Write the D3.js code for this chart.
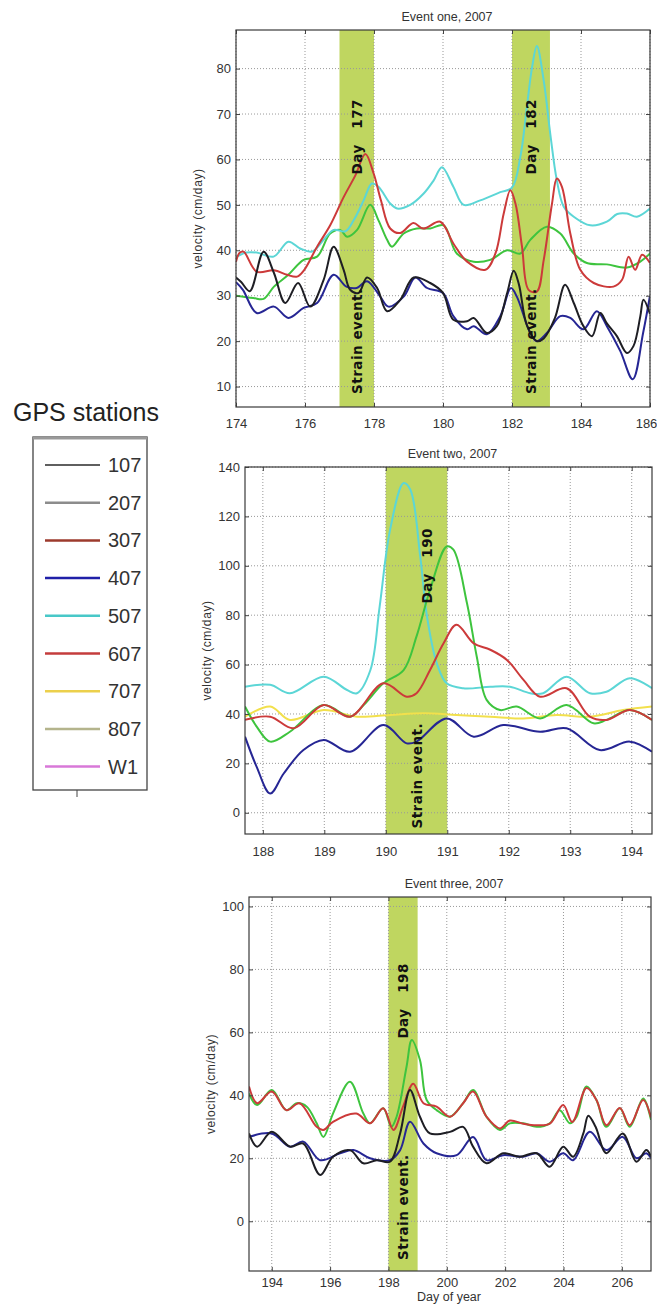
<!DOCTYPE html>
<html>
<head>
<meta charset="utf-8">
<script src="https://cdn.jsdelivr.net/npm/d3@7"></script>
<style>
body { margin: 0; background: #fff; }
svg { display: block; }
.tick text { font-family: "Liberation Sans Narrow", "Arial Narrow", sans-serif; font-size: 13px; fill: #333; }
.title, .ylabel, .xlabel { font-family: "Liberation Sans Narrow", "Arial Narrow", sans-serif; fill: #333; }
.note { font-family: "DejaVu Sans", sans-serif; font-weight: bold; font-size: 13.5px; fill: #111; white-space: pre; letter-spacing: 0.5px; }
.legend text { font-family: "Liberation Sans Narrow", "Arial Narrow", sans-serif; font-size: 20px; fill: #333; }
</style>
</head>
<body>
<svg id="chart" width="657" height="1313"></svg>
<script>
// stations in the legend
const stations = ["107", "207", "307", "407", "507", "607", "707", "807", "W1"];
const legendColors = ["#2a2a2a", "#8c8c8c", "#9c3a2c", "#2020a8", "#48c8c8", "#c43c3c", "#ecd04c", "#b4b48c", "#d878d8"];

// event one, days 174-186 ([day, cm/day])
const ev1_507 = [[174,38.5],[174.3,39.5],[174.6,39.5],[175.09,38.6],[175.52,41.9],[175.86,40.4],[176.2,39.7],[176.54,42.3],[176.83,44.5],[177.17,44.2],[177.41,46.6],[177.7,51],[177.94,54.7],[178.13,54],[178.47,50.3],[178.67,49.2],[179.05,50],[179.44,52.5],[179.73,55.4],[179.97,58.3],[180.3,54],[180.6,50],[181.08,51],[181.66,52.8],[182.0,53.8],[182.24,60.5],[182.43,71.5],[182.58,80.2],[182.72,85],[182.92,77.3],[183.11,65.6],[183.3,55.4],[183.5,49.6],[183.79,47.4],[184.27,45.5],[184.75,46.3],[185.05,48],[185.33,48.1],[185.62,47.4],[186,49.2]];
const ev1_807 = [[174,30],[174.5,29.5],[174.8,29.3],[175.1,32],[175.5,34.5],[175.96,37.9],[176.35,38.6],[176.73,43.7],[177.02,44.5],[177.22,43],[177.51,44.5],[177.89,50],[178.13,46.6],[178.38,42.3],[178.52,40.8],[178.86,43.7],[179.24,44.8],[179.63,44.8],[180.02,45.5],[180.4,39.3],[180.89,37.5],[181.37,37.9],[181.86,40],[182.24,39.3],[182.53,42.3],[183.01,45.2],[183.4,43.7],[183.79,39.3],[184.17,37.2],[184.75,36.9],[185.33,36.2],[185.72,37.5],[186,39.3]];
const ev1_607 = [[174,37.5],[174.1,39.4],[174.22,39.7],[174.6,35.3],[175.1,35.6],[175.48,34.6],[175.77,34.2],[175.97,35.6],[176.35,40.8],[176.73,45.5],[177.12,51.7],[177.46,56.5],[177.75,61.2],[177.99,56.9],[178.2,51],[178.47,44.8],[178.76,43.8],[179.14,46],[179.43,44.8],[179.92,46.3],[180.3,41.5],[180.7,37.5],[181.23,35.7],[181.52,39.3],[181.76,48.1],[181.95,53.2],[182.1,50.3],[182.29,40.8],[182.48,31.3],[182.72,30.9],[182.92,37.9],[183.16,50.3],[183.3,55.8],[183.45,53.9],[183.69,43.7],[183.98,35.7],[184.37,32.8],[184.94,32],[185.19,33.5],[185.38,38.6],[185.57,35.7],[185.77,39],[186,37.2]];
const ev1_107 = [[174,34],[174.15,33],[174.4,31],[174.8,39.7],[175.1,35],[175.43,28.4],[175.8,32.8],[176.15,27.6],[176.54,33.5],[176.83,40.8],[177.12,35.7],[177.31,31.3],[177.55,30.6],[177.8,34],[178.09,31.7],[178.38,26.6],[178.76,29.1],[179.15,34],[179.63,32.8],[180,30.6],[180.3,24.7],[180.7,24.4],[180.89,25.1],[181.27,21.8],[181.56,23.3],[181.86,30.6],[182.05,35.5],[182.2,32.5],[182.43,23.5],[182.72,20],[182.92,20.6],[183.24,25],[183.54,32.4],[183.79,28.4],[184.07,23.3],[184.32,21.1],[184.56,26.2],[184.75,23.9],[185.04,21.1],[185.33,17.4],[185.52,18.9],[185.72,25.5],[185.81,29.1],[186,26]];
const ev1_407 = [[174,33],[174.2,31.3],[174.6,26.2],[175.1,27.6],[175.52,25.1],[175.96,27.3],[176.35,28.4],[176.83,34.6],[177.2,32],[177.5,31.7],[177.8,33.2],[178.18,29.8],[178.42,27.6],[178.86,29.8],[179.2,34],[179.54,31.7],[180,30.6],[180.3,25.5],[180.7,22.6],[180.89,23.3],[181.27,21.5],[181.66,25.5],[181.97,31.7],[182.14,29.8],[182.53,21.8],[182.72,20],[183.01,21.8],[183.4,25.5],[183.69,25.1],[184.07,22.6],[184.46,26.6],[184.75,23.3],[185.14,17.8],[185.5,11.6],[185.8,21.8],[186,30]];

// event two, days 188-194
const ev2_507 = [[187.71,51],[188.12,51.8],[188.44,48.4],[188.99,55.1],[189.37,49.7],[189.53,48.4],[189.75,57.8],[189.9,83.5],[190.07,114.6],[190.29,133.5],[190.4,130.8],[190.56,103.8],[190.67,79.5],[190.83,60.5],[190.99,52.4],[191.26,50.4],[191.7,51],[192.02,51],[192.35,48.4],[192.56,48.4],[192.94,55.1],[193.32,48.4],[193.59,49],[193.97,54.5],[194.33,50.4]];
const ev2_707 = [[187.71,38.9],[188.12,43],[188.44,37.6],[188.99,41.6],[189.53,38.9],[190.07,39.6],[190.62,40.3],[191.15,39.6],[191.7,38.9],[192.24,38.2],[192.78,39.6],[193.32,38.9],[193.86,41.6],[194.33,43]];
const ev2_807 = [[187.71,43],[187.9,34.9],[188.12,28.8],[188.44,32.8],[188.99,43.6],[189.42,38.9],[189.64,43.6],[189.96,52.4],[190.29,57.8],[190.5,71.4],[190.72,90.3],[190.99,107.8],[191.1,106.5],[191.32,84.9],[191.48,63.2],[191.64,45.7],[191.86,41.6],[192.13,43],[192.51,38.2],[192.94,43.6],[193.38,36.2],[193.59,37.6],[193.97,41.6],[194.33,37.6]];
const ev2_607 = [[187.71,37.6],[188.12,38.9],[188.5,34.2],[188.99,43.6],[189.42,38.9],[189.96,52.4],[190.34,47],[190.5,48.4],[190.72,57.8],[190.94,68.6],[191.15,76.1],[191.43,68.6],[191.7,66],[191.97,61.9],[192.24,53.8],[192.51,47],[192.94,50.4],[193.32,38.9],[193.59,37.6],[193.97,41.6],[194.33,37.6]];
const ev2_407 = [[187.71,30.8],[187.9,18.6],[188.12,7.8],[188.34,15.9],[188.66,25.4],[188.99,29.5],[189.42,24.7],[189.96,35.5],[190.34,28.1],[190.5,28.8],[190.99,38.2],[191.43,30.8],[191.91,35.5],[192.51,32.8],[192.94,34.2],[193.48,25.4],[193.97,28.8],[194.33,24.7]];

// event three, days 193-207
const ev3_807 = [[193.22,40.6],[193.5,36.9],[194,41.7],[194.5,35.3],[194.86,37.5],[195.2,36.4],[195.54,31.1],[195.77,26.8],[196.1,34.2],[196.68,44.3],[197.14,34.2],[197.37,31.1],[197.82,35.9],[198.1,30],[198.28,33.2],[198.62,49.1],[198.8,57.6],[199.08,51.2],[199.31,38.5],[199.65,35.3],[200.11,33.2],[200.56,37.5],[200.9,41.7],[201.36,33.2],[201.82,29],[202.16,31.1],[202.62,31.1],[203.08,30],[203.53,31.1],[203.87,35.3],[204.22,31.1],[204.45,33.2],[204.79,42.8],[205.13,38.5],[205.47,30],[205.93,35.9],[206.27,30],[206.73,39],[207,32.2]];
const ev3_607 = [[193.22,42.8],[193.5,37.5],[194,41.2],[194.5,35.3],[194.95,37.5],[195.54,30],[195.77,29],[196.1,31.6],[196.9,34.2],[197.37,31.1],[197.82,35.9],[198.17,29],[198.5,36.4],[198.85,43.7],[199.2,37.5],[199.65,36.4],[200.11,33.2],[200.56,37.5],[200.9,41.2],[201.36,33.2],[201.82,29.5],[202.16,32],[202.62,31],[203.08,30.5],[203.53,31],[203.99,36.9],[204.3,31.5],[204.79,42.3],[205.13,38.5],[205.47,30.5],[205.93,36],[206.27,30.5],[206.73,38.5],[207,33]];
const ev3_107 = [[193.22,27.9],[193.5,23.7],[194,28.4],[194.63,23.7],[195.08,24.7],[195.66,14.7],[196.1,20.5],[196.68,22.6],[197.14,18.4],[197.6,19.4],[198.05,18.9],[198.4,27.9],[198.74,41.7],[199.08,33.2],[199.42,27.9],[200.11,28.4],[200.56,30],[200.9,23.7],[201.36,18.4],[201.93,21.6],[202.5,20.5],[203.08,21.6],[203.53,17.3],[203.99,23.7],[204.33,20.5],[204.68,27.9],[204.85,33.5],[205.1,30],[205.47,21.6],[206.03,27.9],[206.5,18.9],[206.84,22.6],[207,20.5]];
const ev3_407 = [[193.22,26.8],[194,27.9],[194.63,23.7],[195.08,25.3],[195.66,19.4],[196.34,21.6],[196.8,22.6],[197.37,20],[198.05,19.4],[198.4,22.6],[198.74,31.6],[199.2,24.7],[199.65,21.6],[200.34,21],[200.9,26.8],[201.36,19.4],[201.93,21],[202.62,20.5],[203.08,21.6],[203.53,18.9],[203.99,21.6],[204.33,19.4],[204.9,28.4],[205.47,22.6],[206.03,26.8],[206.5,20],[206.84,21.6],[207,20]];

// axis ticks
const ev1XTicks = [174, 176, 178, 180, 182, 184, 186];
const ev1YTicks = [10, 20, 30, 40, 50, 60, 70, 80];
const ev2XTicks = [188, 189, 190, 191, 192, 193, 194];
const ev2YTicks = [0, 20, 40, 60, 80, 100, 120, 140];
const ev3XTicks = [194, 196, 198, 200, 202, 204, 206];
const ev3YTicks = [0, 20, 40, 60, 80, 100];

// strain event bands [start, end, label]
const ev1Bands = [[177, 178, "Day   177"], [182, 183.1, "Day   182"]];
const ev2Bands = [[190, 191, "Day   190"]];
const ev3Bands = [[198, 199, "Day   198"]];

const svg = d3.select("#chart");

// colours used inside the plots
const lineColor = d3.scaleOrdinal()
    .domain(["107", "407", "507", "607", "707", "807"])
    .range(["#1e1e24", "#262694", "#5cd6d6", "#cc3a3a", "#f2e04c", "#3ec43e"]);

const panels = [
    {title: "Event one, 2007", left: 236, right: 650, top: 30, bottom: 407, xDom: [174, 186], yDom: [5.5, 88.5],
     xTicks: ev1XTicks, yTicks: ev1YTicks, bands: ev1Bands, dayY: 65, strainY: 20, dayDx: 0, pad: 12,
     series: [["807", ev1_807], ["507", ev1_507], ["607", ev1_607], ["407", ev1_407], ["107", ev1_107]]},
    {title: "Event two, 2007", left: 245, right: 652, top: 467, bottom: 834, xDom: [187.71, 194.33], yDom: [-8.6, 140],
     xTicks: ev2XTicks, yTicks: ev2YTicks, bands: ev2Bands, dayY: 100, strainY: 15, dayDx: 10, pad: 13,
     series: [["707", ev2_707], ["507", ev2_507], ["807", ev2_807], ["607", ev2_607], ["407", ev2_407]]},
    {title: "Event three, 2007", left: 249, right: 651, top: 897, bottom: 1271, xDom: [193.22, 207], yDom: [-15.8, 103],
     xTicks: ev3XTicks, yTicks: ev3YTicks, bands: ev3Bands, dayY: 70, strainY: 4.5, dayDx: 0, pad: 7,
     series: [["807", ev3_807], ["607", ev3_607], ["407", ev3_407], ["107", ev3_107]]}
];

panels.forEach((p, pi) => {
    const x = d3.scaleLinear().domain(p.xDom).range([p.left, p.right]);
    const y = d3.scaleLinear().domain(p.yDom).range([p.bottom, p.top]);
    const g = svg.append("g");

    g.append("clipPath").attr("id", `clip${pi}`)
        .append("rect")
        .attr("x", p.left).attr("y", p.top)
        .attr("width", p.right - p.left).attr("height", p.bottom - p.top);

    // strain bands
    g.selectAll(".band")
        .data(p.bands)
        .join("rect")
        .attr("x", d => x(d[0]))
        .attr("y", p.top)
        .attr("width", d => x(d[1]) - x(d[0]))
        .attr("height", p.bottom - p.top)
        .attr("fill", "#bfd660");

    // dotted grid
    g.selectAll(".vgrid")
        .data(p.xTicks)
        .join("line")
        .attr("x1", d => x(d)).attr("x2", d => x(d))
        .attr("y1", p.top).attr("y2", p.bottom)
        .attr("stroke", "#999").attr("stroke-dasharray", "1,2");
    g.selectAll(".hgrid")
        .data(p.yTicks)
        .join("line")
        .attr("x1", p.left).attr("x2", p.right)
        .attr("y1", d => y(d)).attr("y2", d => y(d))
        .attr("stroke", "#999").attr("stroke-dasharray", "1,2");

    // lines
    const line = d3.line()
        .x(d => x(d[0]))
        .y(d => y(d[1]))
        .curve(d3.curveCatmullRom.alpha(0.5));

    g.append("g").attr("clip-path", `url(#clip${pi})`)
        .selectAll("path")
        .data(p.series)
        .join("path")
        .attr("d", d => line(d[1]))
        .attr("fill", "none")
        .attr("stroke", d => lineColor(d[0]))
        .attr("stroke-width", 2)
        .attr("stroke-linejoin", "round");

    // band annotations
    p.bands.forEach(b => {
        const cx = x((b[0] + b[1]) / 2) + 5;
        g.append("text")
            .attr("class", "note")
            .attr("transform", `translate(${cx + p.dayDx},${y(p.dayY)}) rotate(-90)`)
            .attr("text-anchor", "middle")
            .text(b[2]);
        g.append("text")
            .attr("class", "note")
            .attr("transform", `translate(${cx},${y(p.strainY)}) rotate(-90)`)
            .attr("text-anchor", "middle")
            .text("Strain event.");
    });

    // axes, matlab style ticks inside on all sides
    const xAxis = g.append("g")
        .attr("transform", `translate(0,${p.bottom})`)
        .call(d3.axisBottom(x).tickValues(p.xTicks).tickFormat(d3.format("d")).tickSize(-4).tickPadding(p.pad));
    // keep the right-most label inside the page
    xAxis.selectAll(".tick text").filter(d => x(d) > 645).attr("dx", -4);
    g.append("g")
        .attr("transform", `translate(0,${p.top})`)
        .call(d3.axisTop(x).tickValues(p.xTicks).tickSize(-4).tickFormat(""));
    g.append("g")
        .attr("transform", `translate(${p.left},0)`)
        .call(d3.axisLeft(y).tickValues(p.yTicks).tickFormat(d3.format("d")).tickSize(-4).tickPadding(5));
    g.append("g")
        .attr("transform", `translate(${p.right},0)`)
        .call(d3.axisRight(y).tickValues(p.yTicks).tickSize(-4).tickFormat(""));
    g.selectAll(".domain").remove();
    g.selectAll(".tick line").attr("stroke", "#444");

    g.append("rect")
        .attr("x", p.left).attr("y", p.top)
        .attr("width", p.right - p.left).attr("height", p.bottom - p.top)
        .attr("fill", "none").attr("stroke", "#3a3a3a").attr("stroke-width", 1.2);

    g.append("text")
        .attr("class", "title")
        .attr("x", (p.left + p.right) / 2 + 4)
        .attr("y", p.top - 9)
        .attr("text-anchor", "middle")
        .attr("font-size", 12.5)
        .text(p.title);

    g.append("text")
        .attr("class", "ylabel")
        .attr("transform", `translate(${p.left - 34},${(p.top + p.bottom) / 2}) rotate(-90)`)
        .attr("text-anchor", "middle")
        .attr("font-size", 12)
        .attr("letter-spacing", 0.6)
        .text("velocity (cm/day)");
});

svg.append("text")
    .attr("class", "xlabel")
    .attr("x", 449)
    .attr("y", 1301)
    .attr("text-anchor", "middle")
    .attr("font-size", 12.5)
    .text("Day of year");

// legend
svg.append("text")
    .attr("x", 13)
    .attr("y", 421)
    .attr("font-family", "Liberation Sans, Arial, sans-serif")
    .attr("font-size", 25)
    .attr("fill", "#222")
    .text("GPS stations");

const legend = svg.append("g").attr("class", "legend");
legend.append("rect")
    .attr("x", 33).attr("y", 437)
    .attr("width", 114).attr("height", 353)
    .attr("fill", "#fff").attr("stroke", "#444").attr("stroke-width", 1.3);
legend.append("line")
    .attr("x1", 33).attr("x2", 147).attr("y1", 438).attr("y2", 438)
    .attr("stroke", "#999").attr("stroke-width", 3);
legend.append("line")
    .attr("x1", 77).attr("x2", 77).attr("y1", 790).attr("y2", 797)
    .attr("stroke", "#444");

const legendItems = legend.selectAll(".item")
    .data(stations)
    .join("g")
    .attr("transform", (d, i) => `translate(0,${465 + i * 37.7})`);

legendItems.append("line")
    .attr("x1", 45).attr("x2", 100)
    .attr("stroke", (d, i) => legendColors[i])
    .attr("stroke-width", (d, i) => i === 0 ? 1.3 : 2.5);

legendItems.append("text")
    .attr("x", 108)
    .attr("y", 7)
    .text(d => d);
</script>
</body>
</html>
